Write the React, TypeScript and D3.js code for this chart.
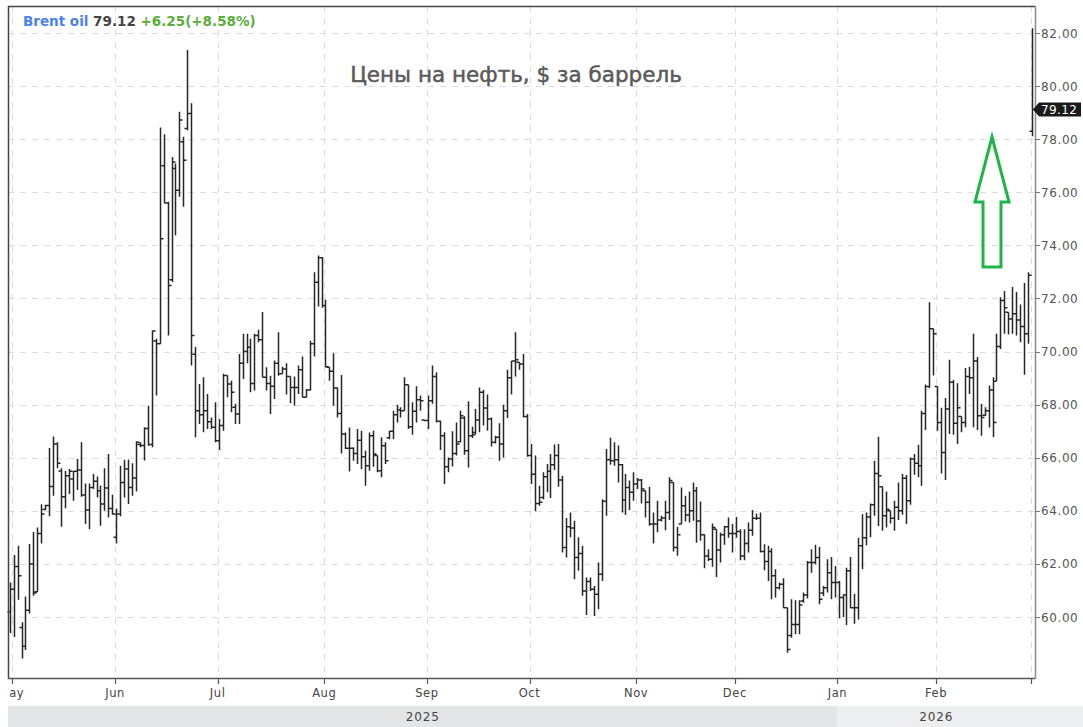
import React from 'react';
import * as d3 from 'd3';

type Bar = [number, number, number, number]; // open, high, low, close

// Brent oil daily bars (Sun-Fri sessions)
const apr: Bar[] = [[60.2, 61.3, 59.4, 61.05]];
const may: Bar[] = [
  [61.05, 62.34, 59.25, 61.9], [61.9, 62.68, 60.65, 61.55], [59.6, 59.8, 58.44, 58.9], [58.9, 60.77, 58.76, 60.25],
  [60.25, 62.75, 60.13, 62.0], [62.0, 63.2, 60.8, 60.9], [60.95, 63.37, 60.95, 63.15], [63.15, 64.25, 62.77, 63.88],
  [64.05, 64.23, 64.03, 64.2], [64.2, 66.37, 63.8, 64.92], [64.92, 66.8, 64.57, 66.52], [66.52, 66.58, 65.6, 65.79],
  [65.5, 65.6, 63.4, 64.53], [64.53, 65.5, 64.1, 65.32], [65.32, 65.58, 64.63, 65.49], [65.2, 65.5, 64.38, 65.49],
  [65.49, 65.95, 64.78, 65.54], [65.54, 66.58, 64.53, 64.6], [64.6, 65.03, 63.5, 64.03], [64.03, 65.03, 63.31, 64.88],
  [64.88, 65.39, 64.82, 65.11], [65.11, 65.29, 64.5, 64.76], [64.76, 64.95, 63.44, 64.26], [64.26, 65.6, 64.0, 64.86],
  [64.86, 66.14, 63.75, 64.09], [64.09, 64.61, 63.85, 63.88],
];
const jun: Bar[] = [
  [63.0, 64.09, 62.77, 63.88], [63.88, 65.7, 63.8, 65.07], [65.07, 65.92, 64.5, 65.58], [65.58, 65.92, 64.26, 64.88],
  [64.88, 65.79, 64.57, 65.24], [65.24, 66.62, 64.73, 66.58], [66.5, 66.58, 66.39, 66.46], [66.46, 67.15, 65.9, 67.1],
  [67.1, 67.96, 66.45, 66.5], [66.5, 70.79, 66.39, 70.77], [70.4, 70.48, 68.34, 70.29], [70.29, 78.44, 70.29, 74.25],
  [77.0, 78.19, 75.6, 75.6], [75.6, 75.64, 70.6, 72.49], [72.7, 77.33, 72.62, 77.14], [76.9, 77.08, 74.38, 76.08],
  [76.08, 79.03, 75.83, 78.72], [77.9, 78.09, 75.45, 77.21], [78.4, 81.36, 78.34, 78.97], [78.97, 79.35, 69.47, 70.6],
  [69.9, 70.17, 66.77, 67.77], [67.77, 68.78, 67.27, 67.62], [67.62, 69.03, 66.96, 67.77], [67.77, 68.4, 67.08, 67.36],
  [67.36, 67.52, 67.08, 67.15], [67.15, 68.09, 66.58, 66.64],
];
const jul: Bar[] = [
  [66.64, 67.46, 66.29, 67.21], [67.21, 69.16, 67.02, 69.1], [69.1, 69.1, 68.28, 68.78], [68.78, 68.9, 67.71, 68.47],
  [67.9, 68.03, 67.27, 67.65], [67.65, 69.91, 67.27, 69.56], [69.56, 70.67, 68.97, 70.0], [70.0, 70.67, 69.56, 70.16],
  [70.16, 70.48, 68.47, 68.8], [68.8, 70.67, 68.53, 70.6], [70.6, 70.82, 70.35, 70.44], [70.44, 71.49, 69.03, 69.03],
  [69.03, 69.41, 68.53, 68.8], [68.8, 69.09, 67.65, 68.69], [68.69, 69.66, 68.21, 69.56], [69.56, 70.73, 69.09, 69.16],
  [69.16, 69.43, 69.16, 69.34], [69.34, 69.56, 68.38, 69.06], [69.06, 69.06, 68.05, 68.65], [68.65, 69.06, 67.96, 68.65],
  [68.65, 69.47, 68.4, 69.31], [69.31, 69.81, 68.28, 68.28], [68.28, 68.59, 68.28, 68.55], [68.55, 70.41, 68.53, 70.29],
  [70.29, 72.99, 69.81, 72.61], [72.61, 73.62, 71.7, 73.53], [73.53, 73.56, 71.65, 71.73],
];
const aug: Bar[] = [
  [71.73, 71.95, 69.41, 69.43], [69.41, 69.41, 68.9, 69.26], [69.26, 69.94, 67.96, 68.63], [68.63, 68.65, 67.52, 67.67],
  [67.67, 69.12, 66.16, 66.89], [66.89, 66.95, 66.33, 66.36], [66.36, 67.14, 65.48, 66.36], [66.36, 66.39, 65.89, 66.16],
  [66.16, 67.08, 65.76, 66.66], [66.66, 67.02, 65.57, 66.04], [66.04, 66.26, 64.94, 65.7], [65.7, 66.95, 65.51, 66.83],
  [66.83, 67.02, 65.66, 66.14], [66.08, 66.08, 65.45, 65.51], [65.51, 66.77, 65.26, 66.45], [66.45, 66.58, 65.76, 65.89],
  [66.75, 67.02, 66.7, 67.0], [67.0, 67.77, 66.7, 67.62], [67.62, 68.0, 67.33, 67.8], [67.8, 67.9, 67.52, 67.77],
  [67.77, 69.03, 67.77, 68.75], [68.75, 68.75, 67.08, 67.17], [67.17, 68.09, 66.87, 67.75], [67.75, 68.69, 67.33, 68.18],
  [68.18, 68.34, 67.77, 68.15], [67.42, 67.42, 67.37, 67.4],
];
const sep: Bar[] = [
  [67.4, 68.34, 67.08, 68.15], [68.15, 69.47, 68.03, 69.06], [69.06, 69.22, 67.33, 67.37], [67.37, 67.4, 66.29, 66.83],
  [66.83, 66.96, 65.01, 65.66], [65.66, 66.01, 65.45, 65.95], [65.95, 67.0, 65.67, 66.16], [66.16, 67.33, 66.08, 66.52],
  [66.6, 67.77, 66.58, 67.58], [67.5, 67.56, 66.11, 66.26], [66.26, 68.13, 65.63, 66.83], [66.83, 67.17, 66.74, 66.87],
  [66.95, 67.84, 66.89, 67.42], [67.42, 68.65, 66.96, 68.47], [68.47, 68.55, 67.21, 67.87], [67.87, 68.38, 67.02, 67.46],
  [67.46, 67.52, 66.42, 66.58], [66.58, 66.83, 66.54, 66.77], [66.77, 67.3, 65.89, 66.52], [66.52, 68.0, 66.01, 67.77],
  [67.77, 69.31, 67.5, 69.01], [69.01, 69.64, 68.38, 69.64], [69.64, 70.73, 69.06, 69.69], [69.6, 69.6, 69.31, 69.53],
  [69.53, 69.91, 67.52, 67.55], [67.55, 67.65, 66.04, 66.08],
];
const oct: Bar[] = [
  [66.08, 66.52, 65.01, 65.38], [65.38, 66.08, 63.98, 64.28], [64.28, 64.94, 64.19, 64.32], [64.5, 65.45, 64.44, 65.28],
  [65.28, 65.76, 64.7, 65.49], [65.49, 66.14, 64.48, 65.74], [65.74, 66.5, 65.54, 66.08], [66.08, 66.52, 64.91, 65.16],
  [65.16, 65.32, 62.43, 62.62], [62.62, 63.73, 62.24, 63.4], [63.4, 63.94, 63.0, 63.35], [63.35, 63.63, 61.42, 62.24],
  [62.24, 63.0, 61.74, 62.39], [62.39, 62.68, 60.8, 60.98], [60.98, 61.49, 60.08, 61.34], [61.34, 61.49, 60.98, 61.05],
  [61.05, 61.17, 60.04, 60.86], [60.86, 62.05, 60.29, 61.61], [61.61, 64.44, 61.36, 64.36], [64.36, 66.33, 63.81, 65.92],
  [65.92, 66.75, 65.74, 65.89], [65.89, 66.58, 65.7, 65.92], [65.92, 66.46, 65.07, 65.74], [65.74, 65.76, 63.94, 64.41],
  [64.41, 65.39, 63.84, 64.88], [64.88, 65.14, 64.03, 64.7], [64.7, 65.45, 64.38, 65.01],
];
const nov: Bar[] = [
  [65.01, 65.24, 64.82, 65.16], [65.16, 65.2, 64.28, 64.82], [64.76, 64.76, 63.75, 64.32], [64.32, 64.91, 63.44, 63.5],
  [63.5, 63.94, 62.77, 63.5], [63.5, 64.38, 63.19, 63.65], [63.65, 63.81, 63.6, 63.73], [63.73, 64.38, 63.27, 63.94],
  [63.94, 65.26, 63.65, 65.14], [65.07, 65.07, 62.47, 62.62], [62.62, 63.4, 62.31, 63.1], [63.5, 64.88, 63.5, 64.19],
  [64.19, 64.57, 63.6, 63.84], [63.84, 64.73, 63.56, 64.0], [64.0, 65.07, 63.63, 64.76], [64.76, 64.9, 62.8, 63.62],
  [63.62, 64.35, 62.87, 63.1], [63.1, 63.12, 61.84, 62.3], [62.3, 62.55, 62.11, 62.18], [62.18, 63.52, 61.89, 63.37],
  [63.31, 63.31, 61.51, 62.52], [62.52, 63.18, 62.05, 63.1], [63.1, 63.43, 62.72, 63.4], [63.4, 63.75, 62.99, 63.15],
  [63.15, 63.5, 62.43, 63.15],
];
const dec: Bar[] = [
  [63.15, 63.77, 62.99, 63.22], [63.22, 63.31, 62.14, 62.3], [62.3, 63.31, 62.14, 62.77], [62.77, 63.56, 62.43, 63.27],
  [63.27, 64.03, 63.06, 63.72], [63.72, 63.9, 63.65, 63.72], [63.72, 63.94, 62.43, 62.47], [62.47, 62.74, 61.76, 62.09],
  [62.09, 62.68, 61.36, 62.47], [62.47, 62.59, 60.67, 61.55], [61.55, 61.8, 60.73, 61.1], [61.1, 61.3, 61.04, 61.23],
  [61.23, 61.46, 60.35, 60.35], [60.35, 60.35, 58.65, 58.78], [59.3, 60.67, 59.22, 59.72], [59.72, 60.63, 59.35, 59.72],
  [59.72, 60.63, 59.35, 60.45], [60.6, 60.92, 60.54, 60.83], [60.83, 62.11, 60.7, 62.05], [62.05, 62.55, 61.67, 62.05],
  [62.05, 62.72, 61.99, 62.24], [62.24, 62.64, 60.48, 60.67], [60.9, 61.17, 60.79, 61.1], [61.1, 62.18, 60.92, 61.67],
  [61.67, 62.26, 60.67, 61.3], [61.3, 61.92, 60.73, 61.3],
];
const jan: Bar[] = [
  [61.3, 61.36, 59.95, 60.73], [60.73, 60.86, 60.0, 60.83], [60.83, 61.86, 59.7, 61.74], [61.74, 62.26, 60.33, 60.35],
  [60.35, 60.88, 59.75, 60.35], [60.35, 62.99, 59.91, 62.68], [62.68, 63.87, 61.8, 62.99], [62.99, 63.94, 62.7, 63.77],
  [63.77, 64.28, 63.0, 64.23], [64.23, 65.89, 63.81, 65.41], [65.41, 66.79, 63.43, 65.32], [64.91, 64.91, 63.25, 63.81],
  [63.81, 64.73, 63.37, 64.06], [64.0, 64.0, 63.52, 63.72], [63.72, 64.38, 63.25, 64.13], [64.13, 65.07, 63.65, 64.0],
  [64.0, 65.39, 63.85, 65.23], [65.23, 65.35, 63.5, 64.38], [64.38, 66.01, 64.23, 65.95], [65.95, 66.14, 65.36, 65.79],
  [65.79, 66.49, 65.26, 65.7], [65.7, 67.77, 64.94, 67.67], [67.67, 68.76, 67.04, 68.68], [68.68, 71.86, 68.63, 70.86],
  [70.86, 70.86, 69.1, 70.67],
];
const feb: Bar[] = [
  [68.68, 68.68, 67.02, 67.33], [67.33, 67.88, 65.41, 66.2], [66.2, 68.25, 65.16, 67.84], [67.84, 69.69, 66.89, 68.84],
  [68.84, 68.93, 66.87, 67.3], [67.3, 68.81, 66.52, 67.88], [67.55, 67.55, 66.96, 67.33], [67.33, 69.38, 67.15, 69.06],
  [69.06, 69.43, 68.4, 69.01], [69.01, 70.67, 67.15, 69.64], [69.64, 69.79, 67.04, 67.58], [67.58, 68.02, 66.83, 67.52],
  [67.6, 67.9, 67.58, 67.77], [67.77, 68.72, 67.14, 68.55], [68.55, 69.03, 66.77, 67.33], [68.88, 70.67, 68.88, 70.19],
  [70.19, 72.05, 70.1, 71.92], [71.92, 72.28, 70.67, 71.65], [71.48, 71.48, 70.64, 71.23], [71.23, 72.43, 70.67, 71.42],
  [71.42, 72.24, 70.6, 71.19], [71.19, 71.77, 70.35, 70.94], [70.94, 72.58, 69.13, 70.67], [70.67, 72.99, 70.29, 72.87],
];
const mar: Bar[] = [[78.3, 82.18, 78.11, 79.12]];

const monthGroups: Bar[][] = [apr, may, jun, jul, aug, sep, oct, nov, dec, jan, feb, mar];
const monthLabels = ['Apr', 'May', 'Jun', 'Jul', 'Aug', 'Sep', 'Oct', 'Nov', 'Dec', 'Jan', 'Feb', 'Mar'];
const priceTicks = [60, 62, 64, 66, 68, 70, 72, 74, 76, 78, 80, 82];
const years = [
  { label: '2025', from: 1, to: 9 },   // month group indices
  { label: '2026', from: 9, to: 12 },
];
const lastPrice = 79.12;
const legendName = 'Brent oil';
const legendChange = '+6.25(+8.58%)';
const title = 'Цены на нефть, $ за баррель';

const W = 1083;
const H = 727;
const left = 8;
const right = 1035;
const top = 6;
const bottom = 678;

const bars: Bar[] = monthGroups.flat();
const monthStart: number[] = [];
{
  let acc = 0;
  monthGroups.forEach((g) => {
    monthStart.push(acc);
    acc += g.length;
  });
}

const x = d3.scaleLinear().domain([0, bars.length - 1]).range([9.7, 1032]);
const y = d3.scaleLinear().domain([60, 82]).range([617, 33]);

const font = '"DejaVu Sans", sans-serif';

const App: React.FC = () => {
  const tickX = (i: number) => x(monthStart[i] - 0.3);
  const monthTicks = monthLabels.map((m, i) => ({ m, px: tickX(i) })).slice(1);
  const barPath = bars
    .map((b, i) => {
      const cx = Math.round(x(i)) + 0.5;
      const [o, h, l, c] = b;
      return `M${cx},${y(h)}V${y(l)}M${cx - 3},${y(o)}H${cx}M${cx},${y(c)}H${cx + 3}`;
    })
    .join('');

  const yearBand = years.map((yr, k) => {
    const x0 = k === 0 ? left : tickX(yr.from);
    const x1 = k === years.length - 1 ? W : tickX(yr.to);
    const labelX = k === years.length - 1 ? (tickX(yr.from) + right) / 2 : (x0 + x1) / 2;
    return { ...yr, x0, x1, labelX, fill: k === 0 ? '#e4e5e7' : '#eceef0' };
  });

  const yl = y(lastPrice);

  return (
    <div style={{ position: 'absolute', left: 0, top: 0 }}>
      <svg width={W} height={H} style={{ display: 'block', background: '#fff' }}>
        <defs>
          <clipPath id="plotClip">
            <rect x={left} y={0} width={W - left} height={H} />
          </clipPath>
        </defs>
        {/* grid */}
        <g stroke="#dcdcdc" strokeWidth={1} strokeDasharray="6,6">
          {priceTicks.map((p) => (
            <line key={p} x1={left} x2={right} y1={Math.round(y(p)) + 0.5} y2={Math.round(y(p)) + 0.5} />
          ))}
          {monthTicks.map((t) => (
            <line key={t.m} x1={Math.round(t.px) + 0.5} x2={Math.round(t.px) + 0.5} y1={top} y2={bottom} />
          ))}
        </g>

        {/* bars */}
        <path d={barPath} stroke="#262626" strokeWidth={1.5} fill="none" />

        {/* frame */}
        <line x1={left + 0.5} x2={left + 0.5} y1={top} y2={bottom + 1} stroke="#444" strokeWidth={1.5} />
        <line x1={left} x2={right} y1={top + 0.5} y2={top + 0.5} stroke="#444" strokeWidth={1.5} />
        <line x1={left} x2={right} y1={bottom + 0.5} y2={bottom + 0.5} stroke="#555" strokeWidth={1.5} />
        <line x1={right + 0.5} x2={right + 0.5} y1={top} y2={bottom + 1} stroke="#8a8a8a" strokeWidth={1.5} />

        {/* right axis */}
        <g fontFamily={font} fontSize={12} fill="#555">
          {priceTicks.map((p) => (
            <g key={p}>
              <line x1={right} x2={right + 5} y1={Math.round(y(p)) + 0.5} y2={Math.round(y(p)) + 0.5} stroke="#777" />
              <text x={right + 6} y={y(p) + 4.5} letterSpacing={0.6}>
                {p.toFixed(2)}
              </text>
            </g>
          ))}
        </g>
        <path
          d={`M${right - 2},${yl}L${right + 4},${yl - 7}H${W - 2}V${yl + 7}H${right + 4}Z`}
          fill="#1a1a1a"
        />
        <text x={right + 6} y={yl + 4.5} fontFamily={font} fontSize={12} fill="#fff" letterSpacing={0.4}>
          {lastPrice.toFixed(2)}
        </text>

        {/* bottom axis */}
        <g clipPath="url(#plotClip)">
          {yearBand.map((b) => (
            <rect key={b.label} x={b.x0} y={706} width={b.x1 - b.x0} height={H - 706} fill={b.fill} />
          ))}
          {yearBand.map((b) => (
            <text key={b.label + 't'} x={b.labelX} y={721} textAnchor="middle" fontFamily={font} fontSize={12} fill="#444" letterSpacing={0.8}>
              {b.label}
            </text>
          ))}
          {[{ m: monthLabels[1], px: tickX(1) - 1 }, ...monthTicks.slice(1, -1)].map((t) => (
            <text key={t.m} x={t.px} y={697} textAnchor="middle" fontFamily={font} fontSize={11.5} fill="#444" letterSpacing={0.6}>
              {t.m}
            </text>
          ))}
          {monthTicks.map((t) => (
            <line key={t.m + 'k'} x1={Math.round(t.px) + 0.5} x2={Math.round(t.px) + 0.5} y1={bottom} y2={bottom + 6} stroke="#555" strokeWidth={1.2} />
          ))}
        </g>

        {/* legend */}
        <text x={23} y={26} fontFamily={font} fontSize={13.5} fontWeight="bold">
          <tspan fill="#4d82ea">{legendName}</tspan>
          <tspan fill="#444"> {lastPrice.toFixed(2)}</tspan>
          <tspan fill="#5cad3e"> {legendChange}</tspan>
        </text>

        {/* title */}
        <text
          x={516}
          y={82}
          textAnchor="middle"
          fontFamily={font}
          fontSize={21.5}
          fill="#5a5a5a"
          stroke="#5a5a5a"
          strokeWidth={0.5}
        >
          {title}
        </text>

        {/* up arrow annotation */}
        <path
          d="M992,137L1009,202H1001V267H983V202H975Z"
          fill="none"
          stroke="#22b24c"
          strokeWidth={3}
          strokeLinejoin="miter"
        />
      </svg>
    </div>
  );
};

export default App;
